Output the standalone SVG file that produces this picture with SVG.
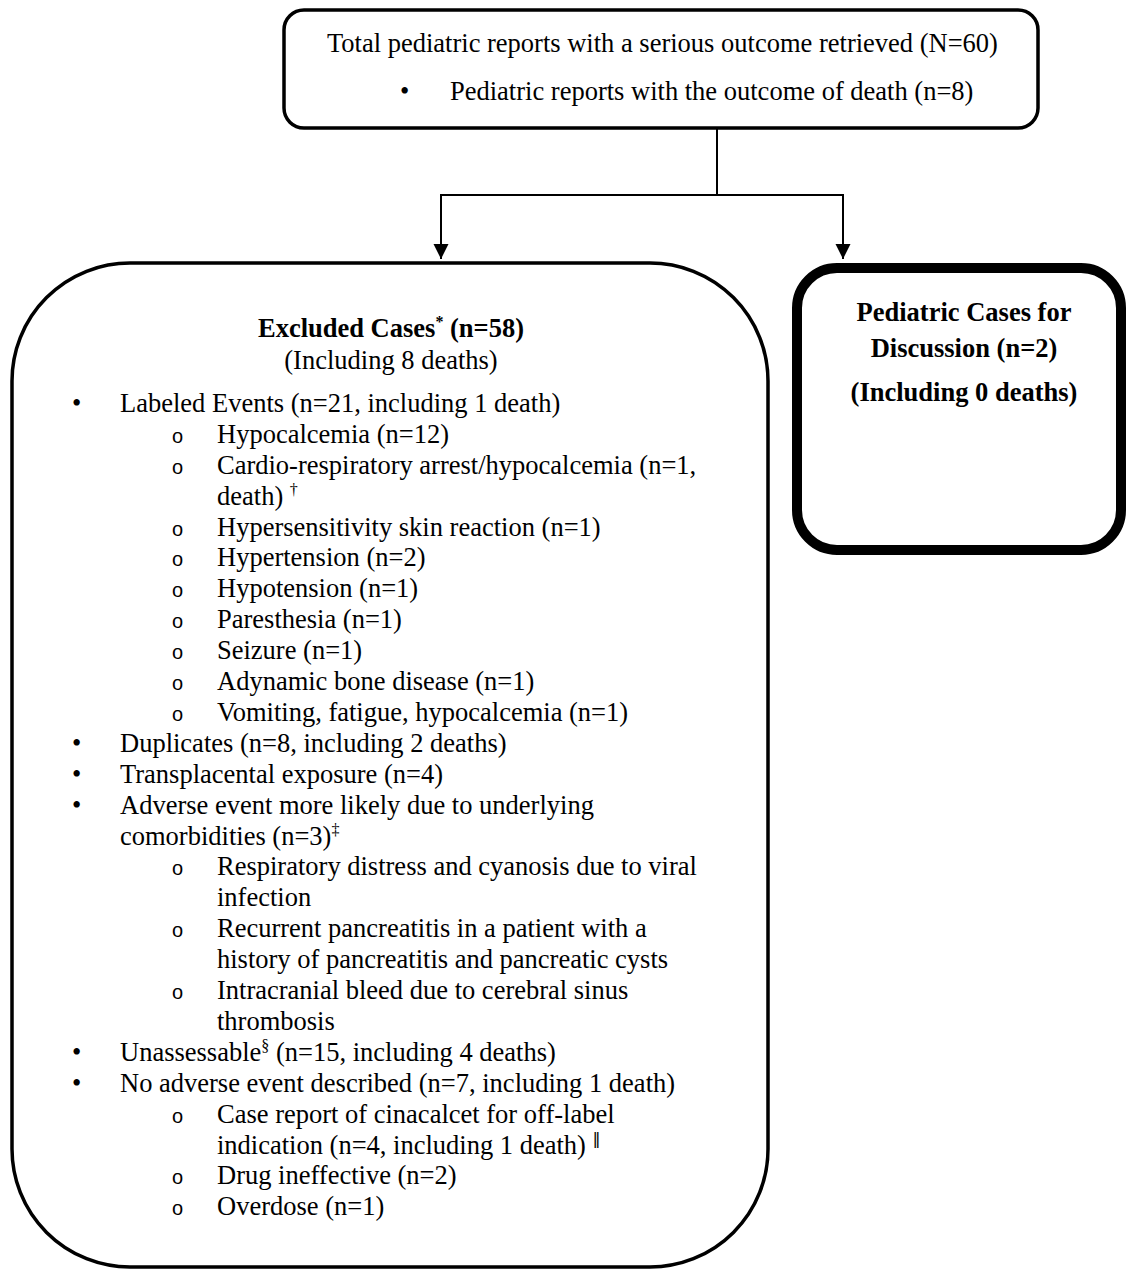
<svg xmlns="http://www.w3.org/2000/svg" width="1126" height="1270" viewBox="0 0 1126 1270">
<style>
  .box { fill: #fff; stroke: #000; stroke-width: 3.5; }
  .thick { fill: #fff; stroke: #000; stroke-width: 10; }
  .t { font-family: "Liberation Serif", "Times New Roman", serif; font-size: 26.5px; fill: #000; }
  .b { font-weight: bold; }
  .mid { text-anchor: middle; }
  .sub { font-family: "Liberation Sans", Arial, sans-serif; font-size: 20px; }
  .sup { font-size: 16px; }
  .bar { font-family: "DejaVu Sans", "DejaVu Serif", sans-serif; font-size: 16px; fill: #000; }
  .conn { fill: none; stroke: #000; stroke-width: 2; }
</style>
<defs>
  <marker id="arrow" markerUnits="userSpaceOnUse" markerWidth="16" markerHeight="16" refX="15" refY="7.5" orient="auto">
    <path d="M0,0 L15,7.5 L0,15 z" fill="#000"/>
  </marker>
</defs>

<g id="connectors">
  <path class="conn" d="M717,128 V195"/>
  <path class="conn" d="M717,195 H441 V259" marker-end="url(#arrow)"/>
  <path class="conn" d="M717,195 H843 V259" marker-end="url(#arrow)"/>
</g>

<g id="node-total">
  <rect class="box" x="284" y="10" width="754" height="118" rx="20"/>
  <text class="t" x="327" y="52">Total pediatric reports with a serious outcome retrieved (N=60)</text>
  <text class="t" x="400" y="100">•</text>
  <text class="t" x="450" y="100">Pediatric reports with the outcome of death (n=8)</text>
</g>

<g id="node-excluded">
  <rect class="box" x="12" y="263" width="756" height="1004" rx="118"/>
  <text class="t b mid" x="391" y="337">Excluded Cases<tspan class="sup" dy="-10">*</tspan><tspan dy="10"> (n=58)</tspan></text>
  <text class="t mid" x="391" y="369">(Including 8 deaths)</text>

  <text class="t" x="72" y="412">•</text>
  <text class="t" x="120" y="412">Labeled Events (n=21, including 1 death)</text>
  <text class="t sub" x="172" y="443">o</text>
  <text class="t" x="217" y="443">Hypocalcemia (n=12)</text>
  <text class="t sub" x="172" y="474">o</text>
  <text class="t" x="217" y="474">Cardio-respiratory arrest/hypocalcemia (n=1,</text>
  <text class="t" x="217" y="505">death) <tspan class="sup" dy="-10">†</tspan></text>
  <text class="t sub" x="172" y="536">o</text>
  <text class="t" x="217" y="536">Hypersensitivity skin reaction (n=1)</text>
  <text class="t sub" x="172" y="566">o</text>
  <text class="t" x="217" y="566">Hypertension (n=2)</text>
  <text class="t sub" x="172" y="597">o</text>
  <text class="t" x="217" y="597">Hypotension (n=1)</text>
  <text class="t sub" x="172" y="628">o</text>
  <text class="t" x="217" y="628">Paresthesia (n=1)</text>
  <text class="t sub" x="172" y="659">o</text>
  <text class="t" x="217" y="659">Seizure (n=1)</text>
  <text class="t sub" x="172" y="690">o</text>
  <text class="t" x="217" y="690">Adynamic bone disease (n=1)</text>
  <text class="t sub" x="172" y="721">o</text>
  <text class="t" x="217" y="721">Vomiting, fatigue, hypocalcemia (n=1)</text>
  <text class="t" x="72" y="752">•</text>
  <text class="t" x="120" y="752">Duplicates (n=8, including 2 deaths)</text>
  <text class="t" x="72" y="783">•</text>
  <text class="t" x="120" y="783">Transplacental exposure (n=4)</text>
  <text class="t" x="72" y="814">•</text>
  <text class="t" x="120" y="814">Adverse event more likely due to underlying</text>
  <text class="t" x="120" y="845">comorbidities (n=3)<tspan class="sup" dy="-10">‡</tspan></text>
  <text class="t sub" x="172" y="875">o</text>
  <text class="t" x="217" y="875">Respiratory distress and cyanosis due to viral</text>
  <text class="t" x="217" y="906">infection</text>
  <text class="t sub" x="172" y="937">o</text>
  <text class="t" x="217" y="937">Recurrent pancreatitis in a patient with a</text>
  <text class="t" x="217" y="968">history of pancreatitis and pancreatic cysts</text>
  <text class="t sub" x="172" y="999">o</text>
  <text class="t" x="217" y="999">Intracranial bleed due to cerebral sinus</text>
  <text class="t" x="217" y="1030">thrombosis</text>
  <text class="t" x="72" y="1061">•</text>
  <text class="t" x="120" y="1061">Unassessable<tspan class="sup" dy="-10">§</tspan><tspan dy="10"> (n=15, including 4 deaths)</tspan></text>
  <text class="t" x="72" y="1092">•</text>
  <text class="t" x="120" y="1092">No adverse event described (n=7, including 1 death)</text>
  <text class="t sub" x="172" y="1123">o</text>
  <text class="t" x="217" y="1123">Case report of cinacalcet for off-label</text>
  <text class="t" x="217" y="1154">indication (n=4, including 1 death) <tspan class="bar" dy="-10">‖</tspan></text>
  <text class="t sub" x="172" y="1184">o</text>
  <text class="t" x="217" y="1184">Drug ineffective (n=2)</text>
  <text class="t sub" x="172" y="1215">o</text>
  <text class="t" x="217" y="1215">Overdose (n=1)</text>
</g>

<g id="node-discussion">
  <rect class="thick" x="797" y="268" width="324" height="282" rx="40"/>
  <text class="t b mid" x="964" y="321">Pediatric Cases for</text>
  <text class="t b mid" x="964" y="357">Discussion (n=2)</text>
  <text class="t b mid" x="964" y="401">(Including 0 deaths)</text>
</g>
</svg>
